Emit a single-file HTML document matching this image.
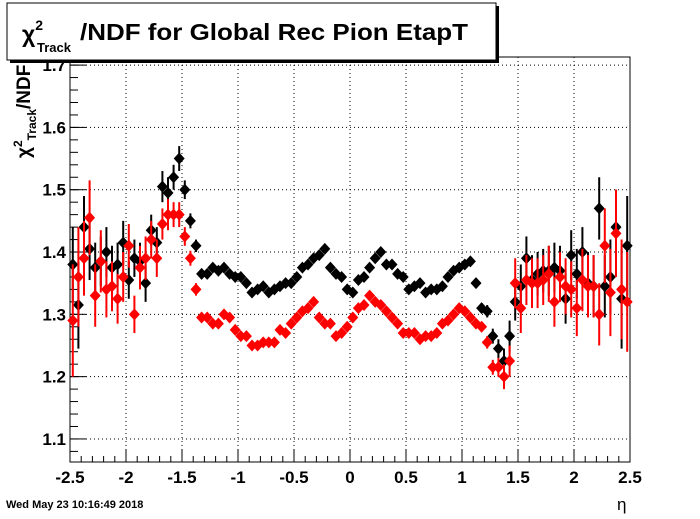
<!DOCTYPE html>
<html><head><meta charset="utf-8"><style>
body{margin:0;background:#fff;}
svg text{font-family:"Liberation Sans",sans-serif;font-weight:bold;}
</style></head><body>
<svg id="c" width="700" height="514" xmlns="http://www.w3.org/2000/svg">
<rect width="700" height="514" fill="#fff"/>
<g id="grid"></g>
<g id="axes"></g>
<g id="series"></g>
<g transform="translate(30,158) rotate(-90)">
<text x="0" y="0" font-size="19">χ<tspan font-size="12" dy="-8">2</tspan><tspan font-size="12" dy="14">Track</tspan><tspan dy="-6" font-size="19">/NDF</tspan></text>
</g>
<g>
<rect x="10" y="6" width="489" height="57" fill="#000"/>
<rect x="7" y="3" width="489" height="57" fill="#fff" stroke="#000" stroke-width="1"/>
<text x="22" y="42" font-size="23">χ<tspan font-size="14" dy="-12">2</tspan></text>
<text x="37" y="52" font-size="13">Track</text>
<text x="80" y="40" font-size="23" textLength="388" lengthAdjust="spacingAndGlyphs">/NDF for Global Rec Pion EtapT</text>
</g>
<text x="617" y="510" font-size="17" style="font-weight:normal">η</text>
<text x="6" y="508" font-size="11">Wed May 23 10:16:49 2018</text>
</svg>
<script>
const xTicks=[-2.5,-2,-1.5,-1,-0.5,0,0.5,1,1.5,2,2.5];
const xTickLabels=["-2.5","-2","-1.5","-1","-0.5","0","0.5","1","1.5","2","2.5"];
const yTicks=[1.1,1.2,1.3,1.4,1.5,1.6,1.7];
const yTickLabels=["1.1","1.2","1.3","1.4","1.5","1.6","1.7"];
const blackVals=[1.38,1.315,1.44,1.405,1.375,1.385,1.40,1.375,1.38,1.415,1.355,1.39,1.385,1.35,1.435,1.415,1.505,1.495,1.52,1.55,1.50,1.45,1.41,1.365,1.365,1.375,1.37,1.375,1.365,1.36,1.36,1.35,1.335,1.34,1.345,1.335,1.34,1.345,1.35,1.35,1.36,1.375,1.38,1.39,1.395,1.405,1.375,1.365,1.36,1.34,1.335,1.355,1.36,1.375,1.39,1.40,1.38,1.38,1.365,1.36,1.34,1.345,1.35,1.335,1.34,1.34,1.345,1.36,1.37,1.375,1.38,1.385,1.35,1.31,1.305,1.265,1.245,1.225,1.265,1.32,1.345,1.39,1.355,1.365,1.37,1.37,1.375,1.37,1.325,1.395,1.365,1.40,1.35,1.345,1.47,1.345,1.36,1.44,1.325,1.41];
const redVals=[1.29,1.36,1.39,1.455,1.33,1.385,1.34,1.345,1.325,1.36,1.41,1.30,1.375,1.39,1.42,1.39,1.445,1.46,1.46,1.46,1.425,1.39,1.34,1.295,1.295,1.285,1.285,1.30,1.295,1.275,1.265,1.265,1.25,1.25,1.255,1.255,1.255,1.275,1.27,1.285,1.295,1.305,1.31,1.32,1.295,1.285,1.285,1.265,1.27,1.28,1.295,1.31,1.315,1.33,1.32,1.315,1.305,1.295,1.285,1.27,1.27,1.27,1.26,1.265,1.265,1.27,1.285,1.29,1.30,1.31,1.305,1.295,1.285,1.28,1.255,1.215,1.215,1.20,1.225,1.35,1.31,1.355,1.35,1.35,1.355,1.365,1.32,1.36,1.345,1.34,1.31,1.355,1.345,1.345,1.30,1.41,1.335,1.43,1.34,1.32];
const blackErr=[0.06,0.07,0.05,0.05,0.04,0.04,0.04,0.035,0.035,0.035,0.03,0.03,0.03,0.03,0.025,0.025,0.025,0.025,0.02,0.02,0.015,0.012,0.01,0.008,0.006,0.005,0.005,0.005,0.005,0.005,0.005,0.005,0.005,0.005,0.005,0.005,0.005,0.005,0.005,0.005,0.005,0.005,0.005,0.005,0.005,0.005,0.005,0.005,0.005,0.005,0.005,0.005,0.005,0.005,0.005,0.005,0.005,0.005,0.005,0.005,0.005,0.005,0.005,0.005,0.005,0.005,0.005,0.005,0.005,0.005,0.005,0.005,0.006,0.008,0.01,0.012,0.015,0.02,0.025,0.03,0.035,0.035,0.04,0.035,0.035,0.04,0.04,0.04,0.04,0.04,0.04,0.04,0.05,0.05,0.05,0.05,0.06,0.06,0.08,0.08];
const redErr=[0.09,0.08,0.06,0.06,0.05,0.05,0.045,0.04,0.04,0.04,0.035,0.03,0.035,0.035,0.03,0.03,0.025,0.025,0.02,0.02,0.015,0.012,0.01,0.008,0.006,0.005,0.005,0.005,0.005,0.005,0.005,0.005,0.005,0.005,0.005,0.005,0.005,0.005,0.005,0.005,0.005,0.005,0.005,0.005,0.005,0.005,0.005,0.005,0.005,0.005,0.005,0.005,0.005,0.005,0.005,0.005,0.005,0.005,0.005,0.005,0.005,0.005,0.005,0.005,0.005,0.005,0.005,0.005,0.005,0.005,0.005,0.005,0.006,0.008,0.01,0.012,0.015,0.02,0.025,0.04,0.04,0.04,0.04,0.04,0.04,0.045,0.04,0.04,0.045,0.045,0.045,0.05,0.05,0.05,0.05,0.06,0.07,0.07,0.08,0.08];
const etaMin=-2.5, etaStep=0.05;
const X0=70,X1=630,Y0=462,Y1=57,VMIN=1.063,VMAX=1.713;
const sx=v=>X0+(v-(-2.5))/5*(X1-X0);
const sy=v=>Y0-(v-VMIN)/(VMAX-VMIN)*(Y0-Y1);
const NS="http://www.w3.org/2000/svg";
function mk(tag,parent,attrs){const e=document.createElementNS(NS,tag);for(const k in attrs)e.setAttribute(k,attrs[k]);parent.appendChild(e);return e;}
const grid=document.getElementById('grid'),axes=document.getElementById('axes'),series=document.getElementById('series');
xTicks.forEach((t,i)=>{
 if(i>0&&i<xTicks.length-1){const l=mk('line',grid,{x1:sx(t),x2:sx(t),y1:Y0,y2:Y1,stroke:'#000','stroke-dasharray':'1,3'});
 
 }
 const tk=mk('line',axes,{x1:sx(t),x2:sx(t),y1:Y0,y2:Y0-12,stroke:'#000'});
 
 
 const tx=mk('text',axes,{x:sx(t),y:Y0+21,'text-anchor':'middle','font-size':'17'});
 tx.textContent=xTickLabels[i];
 
 
});
for(let v=-2.5;v<2.5;v+=0.1){mk('line',axes,{x1:sx(v),x2:sx(v),y1:Y0,y2:Y0-6,stroke:'#000'});}
yTicks.forEach((t,i)=>{
 const l=mk('line',grid,{x1:X0,x2:X1,y1:sy(t),y2:sy(t),stroke:'#000','stroke-dasharray':'1,3'});
 
 
 mk('line',axes,{x1:X0,x2:X0+16,y1:sy(t),y2:sy(t),stroke:'#000'});
 const tx=mk('text',axes,{x:X0-4,y:sy(t)+6,'text-anchor':'end','font-size':'17'});
 tx.textContent=yTickLabels[i];
 
 
});
for(let v=1.08;v<1.713;v+=0.02){mk('line',axes,{x1:X0,x2:X0+8,y1:sy(v),y2:sy(v),stroke:'#000'});}
mk('rect',axes,{x:X0,y:Y1,width:X1-X0,height:Y0-Y1,fill:'none',stroke:'#000'});
function draw(vals,errs,col,name){
 vals.forEach((v,i)=>{
  const eta=etaMin+etaStep*(i+0.5);const x=sx(eta),y=sy(v);
  const g=mk('g',series,{});
  
  
  mk('line',g,{x1:x,x2:x,y1:Math.max(Y1,sy(v+errs[i])),y2:Math.min(Y0,sy(v-errs[i])),stroke:col,'stroke-width':2});
  mk('polygon',g,{points:`${x},${y-6} ${x+5.5},${y} ${x},${y+6} ${x-5.5},${y}`,fill:col});
 });
}
draw(blackVals,blackErr,'#000','black-series');
draw(redVals,redErr,'#f00','red-series');
</script>
</body></html>
